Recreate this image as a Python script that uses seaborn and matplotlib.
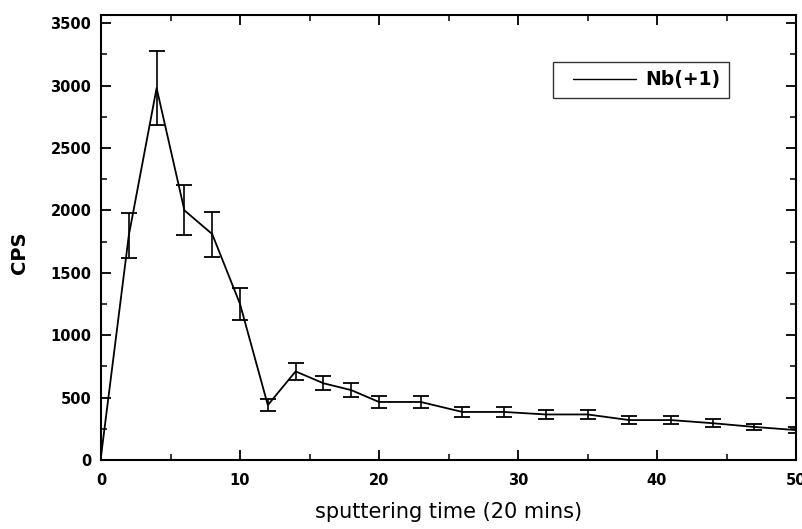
import matplotlib
matplotlib.use("Agg")
import matplotlib.pyplot as plt
import seaborn as sns
import pandas as pd
from matplotlib.ticker import MultipleLocator
from matplotlib.legend_handler import HandlerLine2D
from matplotlib.lines import Line2D

time = [0, 2, 4, 6, 8, 10, 12, 14, 16, 18, 20, 23, 26, 29, 32, 35, 38, 41, 44, 47, 50]
cps = [30, 1800, 2980, 2000, 1810, 1250, 440, 710, 615, 560, 465, 465, 385, 385, 365, 365, 320, 320, 295, 265, 240]
err = [0, 180, 300, 200, 180, 125, 45, 65, 55, 55, 45, 45, 40, 40, 36, 36, 30, 30, 30, 27, 25]
series_name = "Nb(+1)"

df = pd.DataFrame({"time": time, "cps": cps, "err": err, "series": series_name})

sns.set_theme(style="ticks")
plt.rcParams["font.family"] = ["DejaVu Sans"]
plt.rcParams["text.color"] = "black"
plt.rcParams["axes.labelcolor"] = "black"
plt.rcParams["xtick.color"] = "black"
plt.rcParams["ytick.color"] = "black"

fig = plt.figure(figsize=(8.03, 5.29), dpi=100)
ax = fig.add_axes([0.1258, 0.1304, 0.8655, 0.8412])

sns.lineplot(data=df, x="time", y="cps", hue="series", palette=["black"],
             linewidth=1.3, ax=ax)
ax.errorbar(df["time"][1:], df["cps"][1:], yerr=df["err"][1:], fmt="none",
            ecolor="black", elinewidth=1.2, capsize=6, capthick=1.3)

ax.set_xlim(0, 50)
ax.set_ylim(0, 3565)
ax.xaxis.set_major_locator(MultipleLocator(10))
ax.xaxis.set_minor_locator(MultipleLocator(5))
ax.yaxis.set_major_locator(MultipleLocator(500))
ax.yaxis.set_minor_locator(MultipleLocator(250))
ax.tick_params(which="both", direction="in", top=True, right=True, color="black",
               labelcolor="black")
ax.tick_params(which="major", length=7, width=1.3, labelsize=10.5)
ax.tick_params(axis="x", which="major", pad=9)
ax.tick_params(axis="y", which="major", pad=7)
ax.tick_params(which="minor", length=4, width=1.1)
for lab in ax.get_xticklabels() + ax.get_yticklabels():
    lab.set_fontweight("bold")
for s in ax.spines.values():
    s.set_linewidth(1.5)
    s.set_color("black")

ax.set_xlabel("sputtering time (20 mins)", fontsize=15, fontweight="normal", color="black")
ax.xaxis.set_label_coords(0.5, -0.095)
ax.set_ylabel("CPS", fontsize=14, fontweight="bold", color="black")
ax.yaxis.set_label_coords(-0.103, 0.465)

handles, labels = ax.get_legend_handles_labels()
leg = ax.legend(handles, labels, loc="upper right", bbox_to_anchor=(0.9036, 0.8944),
                borderaxespad=0, frameon=True, fancybox=False, edgecolor="black",
                handlelength=3.95, handletextpad=0.53, borderpad=0.45,
                handler_map={Line2D: HandlerLine2D(xpad=0.62)},
                prop={"size": 13.5, "weight": "bold"})
leg.get_frame().set_linewidth(1.0)
for t in leg.get_texts():
    t.set_color("black")
for h in leg.get_lines():
    h.set_linewidth(1.0)

fig.savefig("out.png", dpi=100)
